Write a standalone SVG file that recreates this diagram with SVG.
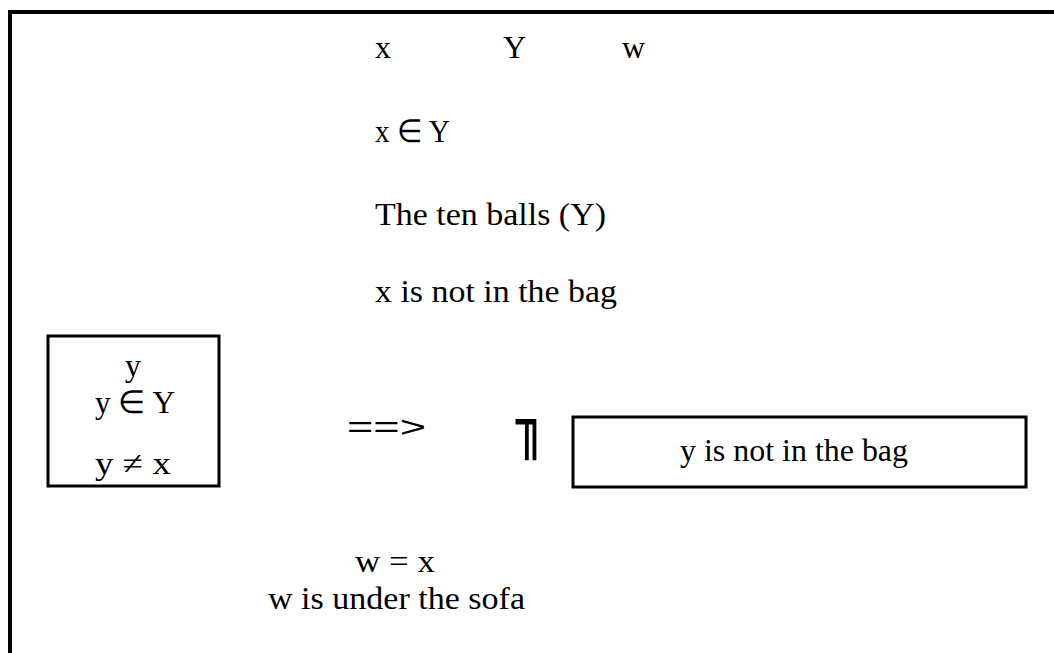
<svg xmlns="http://www.w3.org/2000/svg" width="1054" height="653" viewBox="0 0 1054 653">
<style>
.t{font-family:"Liberation Serif",serif;font-size:32px;fill:#000}
.box{fill:none;stroke:#000;stroke-width:3}
.frame{fill:none;stroke:#000;stroke-width:4}
.s{font-family:"Liberation Sans",sans-serif;font-size:30px;fill:#000}
</style>
<rect width="1054" height="653" fill="#fff"/>
<g id="frame"><path class="frame" d="M10 653 V12 H1054"/></g>
<g id="header">
<text class="t" x="375" y="58">x</text>
<text class="t" x="503" y="58">Y</text>
<text class="t" x="622" y="58">w</text>
</g>
<g id="x-in-Y"><text class="t" x="375" y="142" textLength="75" lengthAdjust="spacingAndGlyphs">x ∈ Y</text></g>
<g id="ten-balls"><text class="t" x="375" y="225" textLength="231" lengthAdjust="spacingAndGlyphs">The ten balls (Y)</text></g>
<g id="x-not-in-bag"><text class="t" x="375" y="302" textLength="242" lengthAdjust="spacingAndGlyphs">x is not in the bag</text></g>
<g id="y-box">
<rect class="box" x="48" y="336" width="171" height="150"/>
<text class="t" x="133" y="376" text-anchor="middle">y</text>
<text class="t" x="95" y="413" textLength="80" lengthAdjust="spacingAndGlyphs">y ∈ Y</text>
<text class="t" x="95" y="474" textLength="76" lengthAdjust="spacingAndGlyphs">y ≠ x</text>
</g>
<g id="connectors">
<text class="s" x="347" y="437" textLength="79" lengthAdjust="spacingAndGlyphs">==&gt;</text>
<text x="516" y="444" font-family="DejaVu Sans Mono, monospace" font-size="65" transform="translate(516 0) scale(0.75 1) translate(-516 0)">╖</text>
</g>
<g id="y-not-in-bag">
<rect class="box" x="573" y="417" width="453" height="70"/>
<text class="t" x="680" y="461" textLength="228" lengthAdjust="spacingAndGlyphs">y is not in the bag</text>
</g>
<g id="w-eq-x">
<text class="t" x="355" y="572" textLength="80" lengthAdjust="spacingAndGlyphs">w = x</text>
<text class="t" x="268" y="609" textLength="257" lengthAdjust="spacingAndGlyphs">w is under the sofa</text>
</g>
</svg>
